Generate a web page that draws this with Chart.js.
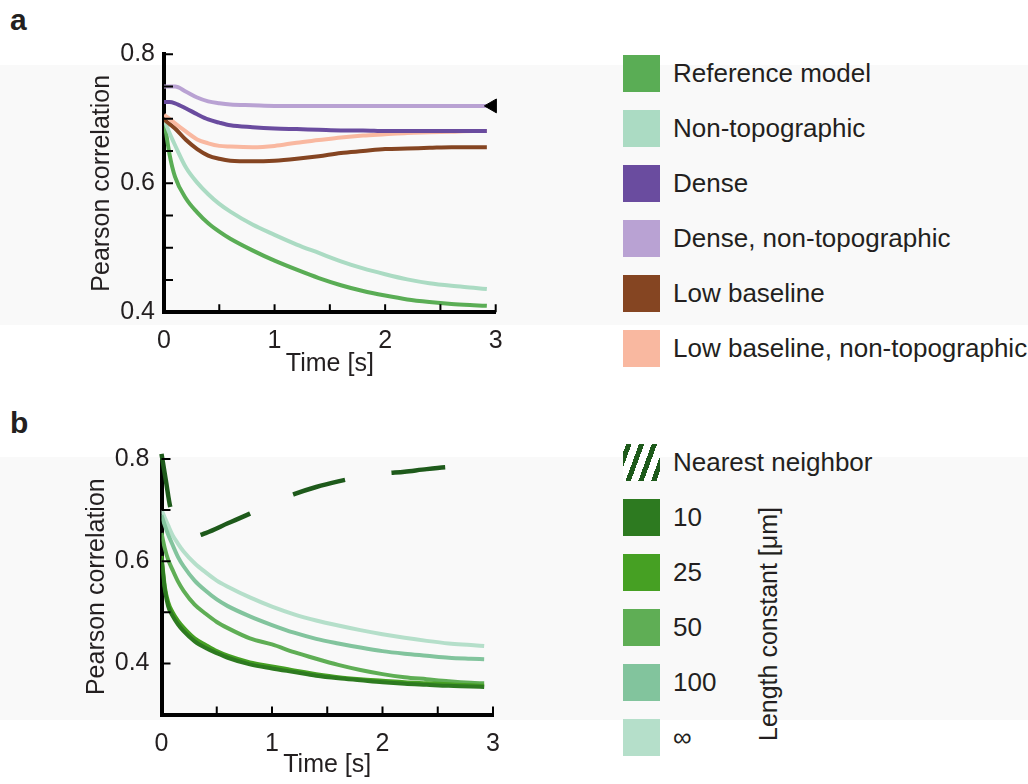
<!DOCTYPE html>
<html>
<head>
<meta charset="utf-8">
<script src="https://cdn.jsdelivr.net/npm/chart.js@4.4.1/dist/chart.umd.min.js"></script>
<style>
  body { margin: 0; width: 1028px; height: 784px; background: #fff; position: relative; overflow: hidden;
         font-family: "Liberation Sans", Arial, sans-serif; color: #231f20; }
  .band { position: absolute; left: 0; width: 1028px; background: #f9f9f9; }
  canvas { position: absolute; left: 0; }
  .panel { position: absolute; left: 10px; font-weight: bold; font-size: 30px; line-height: 30px; }
  .legend { position: absolute; left: 623px; }
  .row { height: 37px; margin-bottom: 18px; display: flex; align-items: center; font-size: 26px; white-space: nowrap; }
  .sw { width: 37px; height: 37px; margin-right: 13px; flex: none; }
  .unit { position: absolute; width: 300px; text-align: center; font-size: 25px; line-height: 30px;
          left: 618px; top: 609px; transform: rotate(-90deg); }
</style>
</head>
<body>
<div class="band" style="top:65px;height:260px"></div>
<div class="band" style="top:457px;height:263px"></div>
<div class="panel" style="top:5px">a</div>
<div class="panel" style="top:408px">b</div>
<canvas id="chartA" width="560" height="370" style="top:30px"></canvas>
<canvas id="chartB" width="560" height="354" style="top:430px"></canvas>
<div class="legend" id="legendA" style="top:55px"></div>
<div class="legend" id="legendB" style="top:444px"></div>
<div class="unit">Length constant [μm]</div>

<script>
// panel a
const timeA = [0, 0.05, 0.1, 0.2, 0.3, 0.4, 0.5, 0.6, 0.8, 1.0, 1.2, 1.4, 1.6, 1.8, 2.0, 2.2, 2.4, 2.6, 2.8, 2.92];
const referenceModel = [0.70, 0.645, 0.61, 0.576, 0.555, 0.538, 0.525, 0.514, 0.496, 0.48, 0.466, 0.453, 0.442, 0.433, 0.426, 0.42, 0.416, 0.413, 0.411, 0.41];
const nonTopographic = [0.70, 0.678, 0.659, 0.624, 0.601, 0.583, 0.568, 0.556, 0.536, 0.52, 0.505, 0.492, 0.479, 0.468, 0.459, 0.451, 0.445, 0.441, 0.438, 0.436];
const dense = [0.726, 0.726, 0.724, 0.716, 0.707, 0.699, 0.694, 0.69, 0.687, 0.685, 0.684, 0.683, 0.682, 0.682, 0.681, 0.681, 0.681, 0.681, 0.681, 0.681];
const denseNonTopo = [0.75, 0.75, 0.75, 0.742, 0.733, 0.727, 0.724, 0.722, 0.721, 0.72, 0.72, 0.72, 0.72, 0.72, 0.72, 0.72, 0.72, 0.72, 0.72, 0.72];
const lowBaseline = [0.699, 0.692, 0.685, 0.667, 0.653, 0.643, 0.638, 0.635, 0.634, 0.635, 0.638, 0.642, 0.647, 0.65, 0.653, 0.654, 0.655, 0.656, 0.656, 0.656];
const lowBaselineNonTopo = [0.706, 0.70, 0.693, 0.68, 0.668, 0.662, 0.658, 0.657, 0.656, 0.658, 0.663, 0.667, 0.671, 0.674, 0.676, 0.678, 0.679, 0.68, 0.681, 0.681];
const markerTime = [2.97];
const markerValue = [0.72];
const namesA = ["Reference model", "Non-topographic", "Dense", "Dense, non-topographic", "Low baseline", "Low baseline, non-topographic"];
const yLabelsA = [0.4, 0.6, 0.8];

// panel b
const timeB = [0, 0.03, 0.06, 0.1, 0.15, 0.2, 0.3, 0.4, 0.5, 0.6, 0.8, 1.0, 1.2, 1.4, 1.6, 1.8, 2.0, 2.2, 2.4, 2.6, 2.8, 2.92];
const nearestTime = [0, 0.04, 0.08, 0.14, 0.2, 0.3, 0.4, 0.6, 0.8, 1.0, 1.2, 1.4, 1.6, 1.8, 2.0, 2.2, 2.4, 2.6, 2.8, 2.92];
const nearestNeighbor = [0.81, 0.757, 0.705, 0.672, 0.656, 0.649, 0.655, 0.674, 0.693, 0.713, 0.731, 0.745, 0.756, 0.765, 0.771, 0.775, 0.78, 0.784, 0.786, 0.787];
const len10 = [0.605, 0.545, 0.512, 0.493, 0.476, 0.463, 0.443, 0.43, 0.42, 0.411, 0.398, 0.39, 0.383, 0.376, 0.371, 0.367, 0.363, 0.36, 0.358, 0.356, 0.355, 0.354];
const len25 = [0.61, 0.55, 0.52, 0.50, 0.483, 0.47, 0.449, 0.436, 0.424, 0.415, 0.402, 0.394, 0.386, 0.379, 0.373, 0.369, 0.366, 0.363, 0.361, 0.359, 0.357, 0.356];
const len50 = [0.655, 0.625, 0.603, 0.583, 0.56, 0.542, 0.515, 0.497, 0.481, 0.469, 0.449, 0.437, 0.422, 0.409, 0.397, 0.387, 0.379, 0.373, 0.369, 0.365, 0.362, 0.361];
const len100 = [0.69, 0.67, 0.652, 0.632, 0.608, 0.59, 0.562, 0.542, 0.525, 0.512, 0.492, 0.475, 0.46, 0.448, 0.439, 0.431, 0.424, 0.419, 0.415, 0.411, 0.409, 0.408];
const lenInf = [0.70, 0.685, 0.67, 0.651, 0.634, 0.619, 0.596, 0.578, 0.562, 0.55, 0.529, 0.511, 0.496, 0.484, 0.474, 0.465, 0.457, 0.45, 0.444, 0.439, 0.436, 0.434];
const namesB = ["Nearest neighbor", "10", "25", "50", "100", "∞"];
const yLabelsB = [0.4, 0.6, 0.8];
const xLabels = [0, 1, 2, 3];

const coloursA = ["#5aad55", "#abdbc3", "#6a4c9f", "#b9a2d3", "#854522", "#f9b8a0"];
const coloursB = ["#1e5a1b", "#2d7a20", "#46a023", "#5fae55", "#82c49d", "#b5dfca"];

const font = { family: "'Liberation Sans', Arial, sans-serif", size: 25 };

const pts = (xs, ys) => xs.map((x, i) => ({ x: x, y: ys[i] }));

// tick marks drawn inside the axes, at the scales' own ticks
const inwardTicks = {
  id: "inwardTicks",
  afterDraw(chart) {
    const { ctx, chartArea } = chart;
    const x = chart.scales.x;
    const y = chart.scales.y;
    ctx.save();
    ctx.strokeStyle = "#000";
    ctx.lineWidth = 2;
    ctx.beginPath();
    x.ticks.forEach((t) => {
      if (t.value === x.min) return;
      const px = x.getPixelForValue(t.value);
      ctx.moveTo(px, chartArea.bottom);
      ctx.lineTo(px, chartArea.bottom - 8);
    });
    y.ticks.forEach((t) => {
      if (Math.abs(t.value - y.min) < 1e-6) return;
      const py = y.getPixelForValue(t.value);
      ctx.moveTo(chartArea.left, py);
      ctx.lineTo(chartArea.left + 9, py);
    });
    ctx.stroke();
    ctx.restore();
  },
};

function lineSet(data, colour, order, width) {
  return {
    data: data,
    borderColor: colour,
    borderWidth: width || 4,
    pointRadius: 0,
    cubicInterpolationMode: "monotone",
    order: order,
  };
}

function options(p) {
  return {
    responsive: false,
    animation: false,
    devicePixelRatio: 1,
    layout: { padding: { top: p.top, right: p.right, left: 0, bottom: 0 } },
    plugins: { legend: { display: false }, tooltip: { enabled: false } },
    scales: {
      x: {
        type: "linear",
        min: 0,
        max: 3,
        z: 1,
        afterFit: (scale) => { scale.height = p.xHeight; },
        grid: { display: false, drawTicks: false },
        border: { display: true, color: "#000", width: 4 },
        ticks: {
          stepSize: 0.5,
          autoSkip: false,
          maxRotation: 0,
          padding: p.xPad,
          color: "#231f20",
          font: font,
          callback: (v) => (xLabels.includes(v) ? String(v) : ""),
        },
        title: { display: true, text: "Time [s]", color: "#231f20", font: font, padding: { top: 0, bottom: p.xTitlePad } },
      },
      y: {
        min: p.yMin,
        max: 0.8,
        z: 1,
        afterFit: (scale) => { scale.width = p.left; },
        grid: { display: false, drawTicks: false },
        border: { display: true, color: "#000", width: 4 },
        ticks: {
          stepSize: p.yStep,
          autoSkip: false,
          padding: p.yPad,
          color: "#231f20",
          font: font,
          callback: (v) => (p.yLabels.some((l) => Math.abs(l - v) < 1e-6) ? v.toFixed(1) : ""),
        },
        title: { display: true, text: "Pearson correlation", color: "#231f20", font: font, padding: { top: p.yTitlePad, bottom: 0 } },
      },
    },
  };
}

const chartA = new Chart(document.getElementById("chartA").getContext("2d"), {
  type: "line",
  data: {
    datasets: [
      {
        data: pts(markerTime, markerValue),
        showLine: false,
        pointStyle: "triangle",
        rotation: -90,
        pointRadius: 8,
        backgroundColor: "#000",
        borderColor: "#000",
        borderWidth: 1,
        clip: false,
        order: 0,
      },
      lineSet(pts(timeA, denseNonTopo), coloursA[3], 1),
      lineSet(pts(timeA, dense), coloursA[2], 2),
      lineSet(pts(timeA, lowBaselineNonTopo), coloursA[5], 3),
      lineSet(pts(timeA, lowBaseline), coloursA[4], 4),
      lineSet(pts(timeA, nonTopographic), coloursA[1], 5),
      lineSet(pts(timeA, referenceModel), coloursA[0], 6),
    ],
  },
  options: options({ top: 24.3, right: 64.3, left: 164, xHeight: 87.7, yMin: 0.4, yStep: 0.05, yLabels: yLabelsA, xPad: 14, yPad: 9, xTitlePad: 21, yTitlePad: 87 }),
  plugins: [inwardTicks],
});

const nearestSet = lineSet(pts(nearestTime, nearestNeighbor), coloursB[0], 0, 4.5);
nearestSet.borderDash = [54, 47];
nearestSet.clip = 10;

const chartB = new Chart(document.getElementById("chartB").getContext("2d"), {
  type: "line",
  data: {
    datasets: [
      nearestSet,
      lineSet(pts(timeB, len10), coloursB[1], 1),
      lineSet(pts(timeB, len25), coloursB[2], 2),
      lineSet(pts(timeB, len50), coloursB[3], 3),
      lineSet(pts(timeB, len100), coloursB[4], 4),
      lineSet(pts(timeB, lenInf), coloursB[5], 5),
    ],
  },
  options: options({ top: 28.9, right: 67, left: 161.5, xHeight: 69.5, yMin: 0.3, yStep: 0.1, yLabels: yLabelsB, xPad: 15, yPad: 12, xTitlePad: 4, yTitlePad: 82 }),
  plugins: [inwardTicks],
});

// legends
const legendA = document.getElementById("legendA");
namesA.forEach((name, i) => {
  legendA.innerHTML += `<div class="row"><div class="sw" style="background:${coloursA[i]}"></div>${name}</div>`;
});
const legendB = document.getElementById("legendB");
namesB.forEach((name, i) => {
  const bg = i === 0
    ? `repeating-linear-gradient(110deg, #fff 0 3px, ${coloursB[0]} 3px 8px, #fff 8px 12px)`
    : coloursB[i];
  legendB.innerHTML += `<div class="row"><div class="sw" style="background:${bg}"></div>${name}</div>`;
});
</script>
</body>
</html>
